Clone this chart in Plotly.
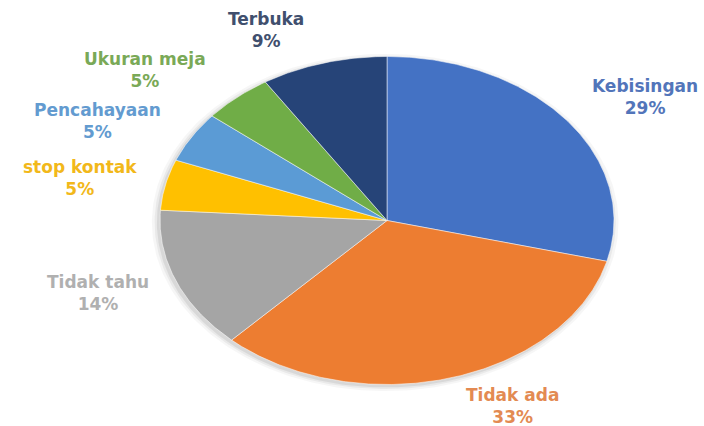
import numpy as np
import plotly.graph_objects as go

# Survey answers and their shares (percent), clockwise from 12 o'clock
categories = ["Kebisingan", "Tidak ada", "Tidak tahu", "stop kontak",
              "Pencahayaan", "Ukuran meja", "Terbuka"]
shares = [29, 33, 14, 5, 5, 5, 9]

slice_colors = ["#4472C4", "#ED7D31", "#A5A5A5", "#FFC000",
                "#5B9BD5", "#70AD47", "#264478"]
label_colors = ["#5275BA", "#E38A52", "#B0B0B0", "#F2B81A",
                "#639BD0", "#7AA957", "#404F6E"]

# pixel nudges of each label away from the rim point at the slice's mid angle
label_nudge_px = [(79, 23), (62, -28), (-78, -12), (-85, 7),
                  (-94, 16), (-92, 27), (-58, 33)]

W, H = 704, 426
CX, CY = 387, 220.5          # pie centre in pixels
RX, RY = 227, 164            # horizontal / vertical radius in pixels

x_range = [-CX / RX, (W - CX) / RX]
y_range = [-(H - CY) / RY, CY / RY]

fig = go.Figure()

total = float(sum(shares))
bounds = np.concatenate([[0.0], np.cumsum(shares) / total]) * 2 * np.pi

# soft shadow under the pie, a little towards the lower left
t = np.linspace(0, 2 * np.pi, 361)
for k, alpha in [(1.028, 0.035), (1.016, 0.05), (1.006, 0.07)]:
    fig.add_trace(go.Scatter(
        x=k * np.sin(t) - 0.008, y=k * np.cos(t) - 0.012, mode="lines",
        fill="toself", fillcolor=f"rgba(0,0,0,{alpha})",
        line=dict(width=0), hoverinfo="skip", showlegend=False))

for i, name in enumerate(categories):
    a0, a1 = bounds[i], bounds[i + 1]
    th = np.linspace(a0, a1, max(8, int((a1 - a0) * 120)))
    xs = np.concatenate([[0.0], np.sin(th), [0.0]])
    ys = np.concatenate([[0.0], np.cos(th), [0.0]])
    fig.add_trace(go.Scatter(
        x=xs, y=ys, mode="lines", fill="toself",
        fillcolor=slice_colors[i],
        line=dict(color="rgba(255,255,255,0.5)", width=1),
        name=name, hoverinfo="name", showlegend=False))

    mid = (a0 + a1) / 2
    dx, dy = label_nudge_px[i]
    fig.add_annotation(
        x=np.sin(mid), y=np.cos(mid), xref="x", yref="y",
        xshift=dx, yshift=dy, showarrow=False,
        text=f"{name}<br>{shares[i] / total * 100:.0f}%",
        align="center", xanchor="center", yanchor="middle",
        font=dict(family="DejaVu Sans", size=17, color=label_colors[i],
                  weight="bold"))

fig.update_layout(
    width=W, height=H, margin=dict(l=0, r=0, t=0, b=0),
    paper_bgcolor="white", plot_bgcolor="white",
    xaxis=dict(range=x_range, visible=False, fixedrange=True),
    yaxis=dict(range=y_range, visible=False, fixedrange=True),
)

fig.write_html("out.html")
